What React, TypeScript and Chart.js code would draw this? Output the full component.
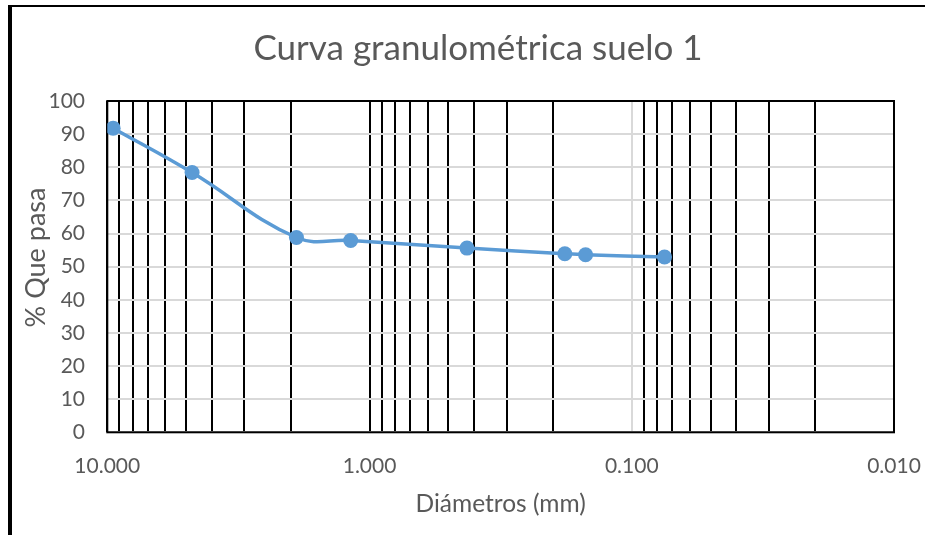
import React, { useEffect, useRef } from 'react';
import { Chart, registerables } from 'chart.js';

Chart.register(...registerables);

// ---- data ----
const diameters = [9.5, 4.75, 1.9, 1.18, 0.425, 0.18, 0.15, 0.075];
const percentPassing = [91.8, 78.4, 58.8, 57.9, 55.6, 53.9, 53.6, 52.9];
const decadeTicks = [10, 1, 0.1, 0.01];
const xTickLabels = ['10.000', '1.000', '0.100', '0.010'];
const minorMultipliers = [2, 3, 4, 5, 6, 7, 8, 9];
const yMin = 0;
const yMax = 100;
const yStep = 10;
const chartTitle = 'Curva granulométrica suelo 1';
const xAxisTitle = 'Diámetros (mm)';
const yAxisTitle = '% Que pasa';

const FONT = 'Lato, "Open Sans", sans-serif';
const TEXT = '#595959';
const BLUE = '#5B9BD5';

const CW = 913;
const CH = 528;
const AREA = { left: 95.3, right: 882, top: 94, bottom: 425.3 };

const near = (a: number, b: number) => Math.abs(a / b - 1) < 1e-6;

const decorPlugin = {
  id: 'decor',
  beforeDatasetsDraw(chart: any) {
    const { ctx, chartArea } = chart;
    ctx.save();
    ctx.strokeStyle = '#000';
    ctx.lineWidth = 2;
    ctx.strokeRect(chartArea.left, chartArea.top, chartArea.right - chartArea.left, chartArea.bottom - chartArea.top);
    ctx.restore();
  },
  afterDraw(chart: any) {
    const { ctx, chartArea } = chart;
    ctx.save();
    ctx.fillStyle = TEXT;
    ctx.textAlign = 'center';
    ctx.textBaseline = 'alphabetic';
    ctx.font = `35px ${FONT}`;
    ctx.fillText(chartTitle, 466, 53);
    ctx.font = `24.5px ${FONT}`;
    ctx.fillText(xAxisTitle, (chartArea.left + chartArea.right) / 2, 505);
    ctx.font = `27px ${FONT}`;
    ctx.translate(33, 250.5);
    ctx.rotate(-Math.PI / 2);
    ctx.fillText(yAxisTitle, 0, 0);
    ctx.restore();
  },
};

export default function App() {
  const ref = useRef<HTMLCanvasElement | null>(null);

  useEffect(() => {
    if (!ref.current) return;
    const points = diameters.map((d, i) => ({ x: d, y: percentPassing[i] }));
    const chart = new Chart(ref.current, {
      type: 'scatter',
      data: {
        datasets: [
          {
            data: points,
            showLine: true,
            borderColor: BLUE,
            backgroundColor: BLUE,
            borderWidth: 3.5,
            pointRadius: 7.5,
            pointHoverRadius: 7.5,
            pointBorderWidth: 0,
            tension: 0.4,
          },
        ],
      },
      options: {
        animation: false,
        responsive: false,
        layout: { padding: { left: 0, top: AREA.top, right: CW - AREA.right, bottom: 0 } },
        plugins: { legend: { display: false }, title: { display: false }, tooltip: { enabled: false } },
        scales: {
          x: {
            type: 'logarithmic',
            min: decadeTicks[decadeTicks.length - 1],
            max: decadeTicks[0],
            reverse: true,
            border: { display: false },
            afterFit: (s: any) => {
              s.height = CH - AREA.bottom;
            },
            afterBuildTicks: (s: any) => {
              const vals: number[] = [...decadeTicks];
              for (let i = 1; i < decadeTicks.length; i++) {
                for (const m of minorMultipliers) vals.push(m * decadeTicks[i]);
              }
              vals.sort((a, b) => a - b);
              s.ticks = vals.map((v) => ({ value: v }));
            },
            grid: {
              drawTicks: false,
              lineWidth: 2,
              color: (c: any) => {
                const v = c.tick ? c.tick.value : 0;
                return near(v, 0.1) ? '#d9d9d9' : '#000';
              },
            },
            ticks: {
              autoSkip: false,
              maxRotation: 0,
              padding: 21,
              color: TEXT,
              font: { family: FONT, size: 21 },
              callback: (v: any) => {
                const idx = decadeTicks.findIndex((d) => near(Number(v), d));
                return idx >= 0 ? xTickLabels[idx] : '';
              },
            },
          },
          y: {
            min: yMin,
            max: yMax,
            border: { display: false },
            afterFit: (s: any) => {
              s.width = AREA.left;
            },
            grid: { drawTicks: false, lineWidth: 2, color: '#d9d9d9' },
            ticks: {
              stepSize: yStep,
              padding: 22.3,
              color: TEXT,
              font: { family: FONT, size: 21 },
            },
          },
        },
      },
      plugins: [decorPlugin],
    });
    return () => chart.destroy();
  }, []);

  return (
    <div
      style={{
        position: 'fixed',
        left: 8,
        top: 5,
        width: CW,
        height: CH,
        borderLeft: '4px solid #000',
        borderTop: '2px solid #000',
        background: '#fff',
      }}
    >
      <canvas ref={ref} width={CW} height={CH} style={{ display: 'block', width: CW, height: CH }} />
    </div>
  );
}
